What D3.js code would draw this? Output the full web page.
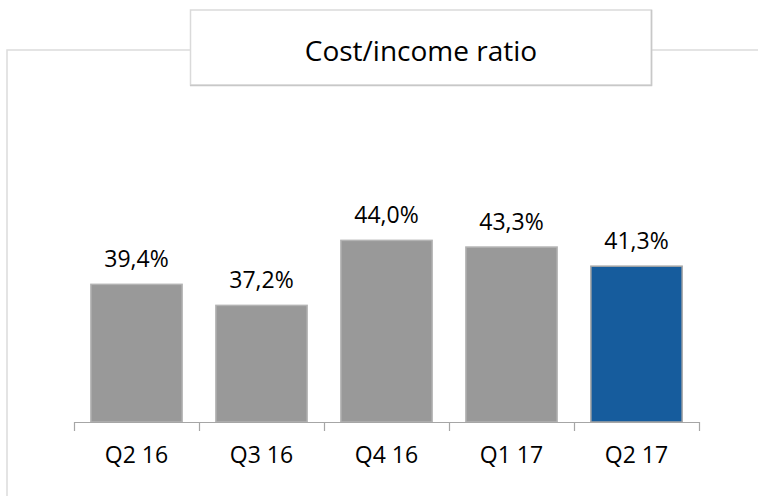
<!DOCTYPE html>
<html>
<head>
<meta charset="utf-8">
<script src="https://cdn.jsdelivr.net/npm/d3@7"></script>
<style>
html,body{margin:0;padding:0;background:#fff;}
svg{display:block;}
</style>
</head>
<body>
<svg id="chart" width="758" height="497"></svg>
<script>
const categories = ["Q2 16", "Q3 16", "Q4 16", "Q1 17", "Q2 17"];
const values = [39.4, 37.2, 44.0, 43.3, 41.3];
const valueLabels = ["39,4%", "37,2%", "44,0%", "43,3%", "41,3%"];
const highlight = [false, false, false, false, true];
const title = "Cost/income ratio";

const svg = d3.select("#chart");
const font = "'Open Sans', sans-serif";

// frame
const frame = svg.append("g");
frame.append("path")
  .attr("d", "M7,496 L7,50 L758,50")
  .attr("fill", "none").attr("stroke", "#dcdcdc").attr("stroke-width", 1.5);

// title box
frame.append("rect")
  .attr("x", 190.5).attr("y", 10).attr("width", 461).attr("height", 75)
  .attr("fill", "#fff").attr("stroke", "#dadada").attr("stroke-width", 1.5);
frame.append("path")
  .attr("d", "M651.5,10 V85.5 H190")
  .attr("fill", "none").attr("stroke", "#c8c8c8").attr("stroke-width", 1.5);
frame.append("text")
  .attr("x", 421).attr("y", 61)
  .attr("text-anchor", "middle")
  .attr("font-family", font).attr("font-size", 28)
  .attr("fill", "#000")
  .text(title);

const x = d3.scaleBand().domain(categories).range([74, 699]).paddingInner(0.27).paddingOuter(0.135);
const y = d3.scaleLinear().domain([25, 50]).range([422, 183]);

const g = svg.append("g");
g.selectAll("rect.bar").data(values).enter().append("rect")
  .attr("class", "bar")
  .attr("x", (d, i) => x(categories[i]))
  .attr("width", x.bandwidth())
  .attr("y", d => y(d))
  .attr("height", d => y(25) - y(d))
  .attr("fill", (d, i) => highlight[i] ? "#165c9d" : "#999999")
  .attr("stroke", (d, i) => highlight[i] ? "#a6a6a6" : "#b3b3b3")
  .attr("stroke-width", 1.5);

g.selectAll("text.val").data(values).enter().append("text")
  .attr("class", "val")
  .attr("x", (d, i) => x(categories[i]) + x.bandwidth() / 2)
  .attr("y", d => y(d) - 17)
  .attr("text-anchor", "middle")
  .attr("font-family", font).attr("font-size", 23)
  .attr("fill", "#000")
  .text((d, i) => valueLabels[i]);

// axis
const axis = d3.axisBottom(x).tickSize(0).tickPadding(25);
const ax = svg.append("g").attr("transform", "translate(0,422)").call(axis);
ax.select(".domain").attr("stroke", "#a6a6a6").attr("stroke-width", 1.2).attr("d", "M74,0.5H699");
ax.selectAll(".tick text").attr("font-family", font).attr("font-size", 23).attr("fill", "#000").attr("dy", "0.71em");
// boundary ticks between categories
const boundaries = [74].concat(categories.map(c => x(c) + x.bandwidth() + x.step() * x.paddingInner() / 2));
boundaries[boundaries.length - 1] = 699;
ax.selectAll("line.bt").data(boundaries).enter().append("line")
  .attr("class", "bt")
  .attr("x1", d => Math.round(d) + 0.5).attr("x2", d => Math.round(d) + 0.5)
  .attr("y1", 0).attr("y2", 9)
  .attr("stroke", "#a6a6a6").attr("stroke-width", 1.2);
</script>
</body>
</html>
